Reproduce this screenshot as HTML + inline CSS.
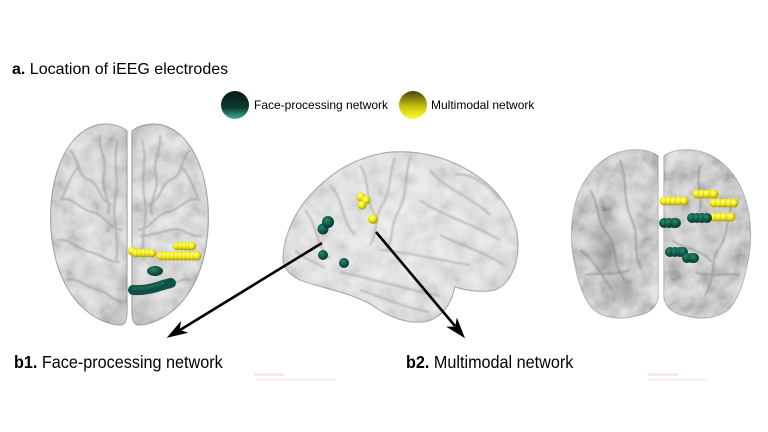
<!DOCTYPE html>
<html><head><meta charset="utf-8">
<style>
html,body{margin:0;padding:0;background:#fff;width:768px;height:432px;overflow:hidden;}
svg{display:block;}
text{font-family:"Liberation Sans",Arial,sans-serif;fill:#000;}
</style></head><body>
<svg width="768" height="432" viewBox="0 0 768 432" xmlns="http://www.w3.org/2000/svg">
<defs>
 <radialGradient id="ys" cx="0.4" cy="0.35" r="0.7">
   <stop offset="0" stop-color="#ffffa0"/>
   <stop offset="0.45" stop-color="#f2ea14"/>
   <stop offset="1" stop-color="#9a8c00"/>
 </radialGradient>
 <radialGradient id="gs" cx="0.4" cy="0.35" r="0.7">
   <stop offset="0" stop-color="#2a8a72"/>
   <stop offset="0.55" stop-color="#0e5746"/>
   <stop offset="1" stop-color="#05302a"/>
 </radialGradient>
 <linearGradient id="lg" x1="0" y1="0" x2="0" y2="1">
   <stop offset="0" stop-color="#0a1a16"/>
   <stop offset="0.6" stop-color="#0d3a30"/>
   <stop offset="1" stop-color="#3cb096"/>
 </linearGradient>
 <linearGradient id="ly" x1="0" y1="0" x2="0" y2="1">
   <stop offset="0" stop-color="#4a4208"/>
   <stop offset="0.55" stop-color="#c8c010"/>
   <stop offset="1" stop-color="#ffff30"/>
 </linearGradient>
 <radialGradient id="bl1" cx="0.5" cy="0.45" r="0.6">
   <stop offset="0" stop-color="#e2e2e2"/>
   <stop offset="0.8" stop-color="#dadada"/>
   <stop offset="1" stop-color="#c4c4c4"/>
 </radialGradient>
 <radialGradient id="bm" cx="0.5" cy="0.45" r="0.6">
   <stop offset="0" stop-color="#ececec"/>
   <stop offset="0.8" stop-color="#e4e4e4"/>
   <stop offset="1" stop-color="#cbcbcb"/>
 </radialGradient>
 <radialGradient id="br" cx="0.5" cy="0.45" r="0.6">
   <stop offset="0" stop-color="#cdcdcd"/>
   <stop offset="0.75" stop-color="#c8c8c8"/>
   <stop offset="1" stop-color="#d6d6d6"/>
 </radialGradient>
 <filter id="blur" x="-50%" y="-50%" width="200%" height="200%"><feGaussianBlur stdDeviation="5"/></filter>
 <filter id="sblur" x="-20%" y="-20%" width="140%" height="140%"><feGaussianBlur stdDeviation="0.9"/></filter>
 <filter id="tex" x="0" y="0" width="100%" height="100%">
   <feTurbulence type="fractalNoise" baseFrequency="0.06" numOctaves="4" seed="5"/>
   <feColorMatrix type="matrix" values="1.4 0 0 0 -0.1  1.4 0 0 0 -0.1  1.4 0 0 0 -0.1  0 0 0 0 1"/>
 </filter>
 <clipPath id="cL">
   <path d="M127,131 C120,125 106,122 94,126 C76,132 64,150 57,172 C50,195 49,222 53,246 C57,270 66,290 80,305 C93,318 108,325 121,325 C126,324 127,318 127,310 Z"/>
   <path d="M132,131 C139,125 153,122 165,126 C183,132 195,150 202,172 C209,195 210,222 206,246 C202,270 193,290 179,305 C166,318 151,325 138,325 C133,324 132,318 132,310 Z"/>
 </clipPath>
 <clipPath id="cM">
   <path d="M283,258 C284,235 295,210 315,190 C335,170 360,155 392,152 C425,150 455,160 480,178 C503,195 518,220 518,245 C518,268 508,285 495,290 C480,293 465,290 455,287 C452,300 445,316 428,321 C410,325 390,318 372,305 C350,292 320,288 300,280 C290,275 283,268 283,258 Z"/>
 </clipPath>
 <clipPath id="cR">
   <path d="M658,156 C650,150 635,148 620,152 C600,158 585,175 577,198 C570,220 570,245 575,265 C578,280 582,295 592,308 C602,318 620,320 635,316 C648,314 656,308 658,298 Z"/>
   <path d="M664,156 C672,150 687,148 702,152 C722,158 737,175 745,198 C752,220 752,245 747,265 C744,280 740,295 730,308 C720,318 702,320 687,316 C674,314 666,308 664,298 Z"/>
 </clipPath>
</defs>

<rect width="768" height="432" fill="#fff"/>

<!-- Title -->
<text x="12" y="74" font-size="16"><tspan font-weight="bold">a.</tspan> Location of iEEG electrodes</text>

<!-- Legend -->
<circle cx="235" cy="105" r="14" fill="url(#lg)"/>
<text x="254" y="109" font-size="12">Face-processing network</text>
<circle cx="413" cy="105" r="14" fill="url(#ly)"/>
<text x="431" y="109" font-size="12">Multimodal network</text>

<!-- LEFT BRAIN (top view) -->
<g>
 <path d="M127,131 C120,125 106,122 94,126 C76,132 64,150 57,172 C50,195 49,222 53,246 C57,270 66,290 80,305 C93,318 108,325 121,325 C126,324 127,318 127,310 Z" fill="url(#bl1)" stroke="#a0a0a0" stroke-width="1.2"/>
 <path d="M132,131 C139,125 153,122 165,126 C183,132 195,150 202,172 C209,195 210,222 206,246 C202,270 193,290 179,305 C166,318 151,325 138,325 C133,324 132,318 132,310 Z" fill="url(#bl1)" stroke="#a0a0a0" stroke-width="1.2"/>
 <g clip-path="url(#cL)">
   <rect x="45" y="118" width="170" height="212" filter="url(#tex)" opacity="0.28"/>
   <g fill="none" stroke="#949494" stroke-width="2" opacity="0.55" filter="url(#sblur)">
     <path d="M70,150 C80,160 75,175 90,180 C100,185 98,200 112,205"/>
     <path d="M60,200 C72,195 80,210 92,212 C104,214 108,228 122,230"/>
     <path d="M58,240 C70,238 78,250 90,252 C100,254 108,262 120,262"/>
     <path d="M66,280 C78,276 86,288 98,290 C108,292 112,300 122,302"/>
     <path d="M100,135 C98,150 108,160 104,175 C100,190 112,200 108,215"/>
     <path d="M118,140 C112,160 120,180 115,200 C112,220 120,240 116,260"/>
     <path d="M80,165 C70,175 66,190 62,198"/>
     <path d="M190,150 C180,160 184,175 170,180 C160,185 162,200 148,205"/>
     <path d="M200,200 C188,195 180,210 168,212 C156,214 152,228 138,230"/>
     <path d="M202,236 C190,238 182,226 170,230 C160,232 150,236 140,236"/>
     <path d="M160,135 C162,150 152,160 156,175 C160,190 148,200 152,215"/>
     <path d="M142,140 C148,160 140,180 145,200 C148,220 140,240 144,260"/>
     <path d="M190,280 C180,276 172,288 160,290"/>
     <path d="M180,165 C190,175 194,190 198,198"/>
   </g>
 </g>
 <!-- electrodes -->
 <g fill="url(#ys)">
   <circle cx="132" cy="251" r="4.3"/><circle cx="136" cy="253" r="4.3"/><circle cx="140" cy="253" r="4.3"/><circle cx="144" cy="253" r="4.3"/><circle cx="148" cy="253" r="4.3"/><circle cx="152" cy="253" r="4.3"/>
   <circle cx="177" cy="246" r="4.3"/><circle cx="181" cy="246" r="4.3"/><circle cx="185" cy="246" r="4.3"/><circle cx="189" cy="246" r="4.3"/><circle cx="192" cy="246" r="4.3"/>
   <circle cx="161" cy="256" r="4.5"/><circle cx="165" cy="256" r="4.5"/><circle cx="169" cy="256" r="4.5"/><circle cx="173" cy="256" r="4.5"/><circle cx="177" cy="256" r="4.5"/><circle cx="181" cy="256" r="4.5"/><circle cx="185" cy="256" r="4.5"/><circle cx="189" cy="256" r="4.5"/><circle cx="193" cy="256" r="4.5"/><circle cx="197" cy="256" r="4.5"/>
 </g>
 <ellipse cx="155" cy="271" rx="8" ry="5" fill="url(#gs)"/>
 <path d="M133,290 C145,291 155,288 163,285 C167,284 170,283 171,283" fill="none" stroke="#0d5244" stroke-width="10" stroke-linecap="round"/>
 <path d="M133,288 C145,289 155,286 163,283" fill="none" stroke="#237a64" stroke-width="3" stroke-linecap="round" opacity="0.6"/>
</g>

<!-- MIDDLE BRAIN (lateral view) -->
<g>
 <path d="M283,258 C284,235 295,210 315,190 C335,170 360,155 392,152 C425,150 455,160 480,178 C503,195 518,220 518,245 C518,268 508,285 495,290 C480,293 465,290 455,287 C452,300 445,316 428,321 C410,325 390,318 372,305 C350,292 320,288 300,280 C290,275 283,268 283,258 Z" fill="url(#bm)" stroke="#aaaaaa" stroke-width="1.2"/>
 <g clip-path="url(#cM)">
   <rect x="280" y="148" width="240" height="180" filter="url(#tex)" opacity="0.2"/>
   <g fill="none" stroke="#a2a2a2" stroke-width="2.2" opacity="0.55" filter="url(#sblur)">
     <path d="M395,158 C388,175 392,190 382,205 C374,218 378,232 370,245"/>
     <path d="M410,158 C404,178 408,195 398,212 C390,226 394,240 386,250"/>
     <path d="M380,250 C405,252 430,258 470,265"/>
     <path d="M340,272 C370,278 400,288 440,296"/>
     <path d="M360,290 C385,298 405,308 430,312"/>
     <path d="M430,170 C445,190 470,195 490,215"/>
     <path d="M420,200 C440,215 465,220 500,240"/>
     <path d="M440,235 C460,245 480,250 505,265"/>
     <path d="M330,185 C345,200 340,220 355,235"/>
     <path d="M305,210 C318,225 315,245 330,258"/>
     <path d="M295,250 C305,260 315,262 325,268"/>
     <path d="M360,165 C370,180 365,200 375,215"/>
     <path d="M455,175 C470,172 490,185 500,200"/>
   </g>
 </g>
 <g fill="url(#gs)">
   <circle cx="323" cy="229" r="5.5"/>
   <circle cx="328" cy="222" r="6"/>
   <circle cx="323" cy="255" r="5"/>
   <circle cx="344" cy="263" r="5"/>
 </g>
 <g fill="url(#ys)">
   <circle cx="361" cy="197" r="4.5"/>
   <circle cx="366" cy="200" r="4.5"/>
   <circle cx="362" cy="205" r="4.5"/>
   <circle cx="373" cy="219" r="5"/>
 </g>
</g>

<!-- RIGHT BRAIN (coronal view) -->
<g>
 <path d="M658,156 C650,150 635,148 620,152 C600,158 585,175 577,198 C570,220 570,245 575,265 C578,280 582,295 592,308 C602,318 620,320 635,316 C648,314 656,308 658,298 Z" fill="url(#br)" stroke="#b0b0b0" stroke-width="1.2"/>
 <path d="M664,156 C672,150 687,148 702,152 C722,158 737,175 745,198 C752,220 752,245 747,265 C744,280 740,295 730,308 C720,318 702,320 687,316 C674,314 666,308 664,298 Z" fill="url(#br)" stroke="#b0b0b0" stroke-width="1.2"/>
 <g clip-path="url(#cR)">
   <rect x="565" y="145" width="190" height="180" filter="url(#tex)" opacity="0.4"/>
   <ellipse cx="628" cy="210" rx="12" ry="35" fill="#ececec" opacity="0.5" filter="url(#blur)"/>
   <ellipse cx="700" cy="240" rx="15" ry="20" fill="#e6e6e6" opacity="0.4" filter="url(#blur)"/>
   <ellipse cx="605" cy="245" rx="14" ry="30" fill="#7a7a7a" opacity="0.3" filter="url(#blur)"/>
   <ellipse cx="622" cy="290" rx="14" ry="12" fill="#6a6a6a" opacity="0.3" filter="url(#blur)"/>
   <g fill="none" stroke="#7a7a7a" stroke-width="1.8" opacity="0.5" filter="url(#sblur)">
     <path d="M590,190 C600,205 595,220 608,235 C618,248 612,265 625,280"/>
     <path d="M620,160 C628,180 622,200 632,220 C640,238 632,255 642,270"/>
     <path d="M580,250 C592,258 600,272 612,290"/>
     <path d="M700,165 C695,185 705,200 698,220"/>
     <path d="M735,200 C725,215 730,235 718,250 C710,262 716,280 705,295"/>
     <path d="M672,240 C685,250 700,248 712,262"/>
     <path d="M585,275 C600,272 615,276 630,270"/>
     <path d="M740,275 C725,272 710,278 695,272"/>
   </g>
 </g>
 <g fill="url(#ys)">
   <circle cx="664" cy="201" r="4.5"/><circle cx="669" cy="201" r="4.5"/><circle cx="674" cy="201" r="4.5"/><circle cx="679" cy="201" r="4.5"/><circle cx="684" cy="201" r="4.5"/>
   <circle cx="697" cy="194" r="4.5"/><circle cx="702" cy="194" r="4.5"/><circle cx="707" cy="194" r="4.5"/><circle cx="712" cy="194" r="4.5"/><circle cx="714" cy="194" r="4.5"/>
   <circle cx="714" cy="203" r="4.5"/><circle cx="719" cy="203" r="4.5"/><circle cx="724" cy="203" r="4.5"/><circle cx="729" cy="203" r="4.5"/><circle cx="734" cy="203" r="4.5"/>
   <circle cx="714" cy="217" r="4.5"/><circle cx="719" cy="217" r="4.5"/><circle cx="724" cy="217" r="4.5"/><circle cx="729" cy="217" r="4.5"/><circle cx="731" cy="217" r="4.5"/>
 </g>
 <g fill="url(#gs)">
   <circle cx="664" cy="223" r="5"/><circle cx="669" cy="223" r="5"/><circle cx="674" cy="223" r="5"/><circle cx="676" cy="223" r="5"/>
   <circle cx="692" cy="218" r="5"/><circle cx="697" cy="218" r="5"/><circle cx="702" cy="218" r="5"/><circle cx="707" cy="218" r="5"/>
   <circle cx="670" cy="252" r="5"/><circle cx="675" cy="252" r="5"/><circle cx="680" cy="252" r="5"/><circle cx="683" cy="252" r="5"/>
   <circle cx="687" cy="258" r="5"/><circle cx="692" cy="258" r="5"/><circle cx="694" cy="258" r="5"/>
 </g>
</g>

<!-- ARROWS -->
<line x1="322" y1="243" x2="180" y2="330" stroke="#000" stroke-width="2.6"/>
<polygon points="168,337 186.5,332.7 179.1,330.2 180.3,322.5" fill="#000" stroke="#000" stroke-width="1"/>
<line x1="376" y1="232" x2="455" y2="326" stroke="#000" stroke-width="2.6"/>
<polygon points="464,337 457,319.3 455.7,327 447.8,327.1" fill="#000" stroke="#000" stroke-width="1"/>

<!-- faint artifacts -->
<rect x="254" y="373" width="30" height="3" fill="#f3d8d8" opacity="0.6"/>
<rect x="256" y="378" width="80" height="3" fill="#f2eaea" opacity="0.6"/>
<rect x="648" y="373" width="30" height="3" fill="#f3d8d8" opacity="0.6"/>
<rect x="648" y="378" width="60" height="3" fill="#f2eaea" opacity="0.6"/>

<!-- Bottom labels -->
<text transform="translate(14,368) scale(0.9,1)" font-size="18"><tspan font-weight="bold">b1.</tspan> Face-processing network</text>
<text transform="translate(406,368) scale(0.9,1)" font-size="18"><tspan font-weight="bold">b2.</tspan> Multimodal network</text>
</svg>
</body></html>
